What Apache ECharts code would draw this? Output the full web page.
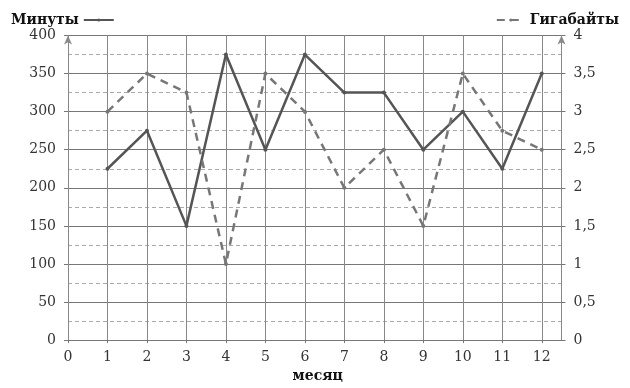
<!DOCTYPE html>
<html>
<head>
<meta charset="utf-8">
<script src="https://cdn.jsdelivr.net/npm/echarts@6/dist/echarts.min.js"></script>
<style>html,body{margin:0;padding:0;background:#fff}#c{width:630px;height:388px}</style>
</head>
<body>
<div id="c"></div>
<script>
var months = [1, 2, 3, 4, 5, 6, 7, 8, 9, 10, 11, 12];
var minutes = [225, 275, 150, 375, 250, 375, 325, 325, 250, 300, 225, 350];
var gigabytes = [3, 3.5, 3.25, 1, 3.5, 3, 2, 2.5, 1.5, 3.5, 2.75, 2.5];
var seriesNames = ['Минуты', 'Гигабайты'];
var xName = 'месяц';

var F = 'DejaVu Serif';
var chart = echarts.init(document.getElementById('c'), null, {renderer: 'canvas'});
chart.setOption({
  animation: false,
  backgroundColor: '#fff',
  grid: {left: 68, right: 68.5, top: 35.5, bottom: 44},
  legend: [
    {data: [seriesNames[0]], left: 6, top: 8, align: 'right', itemWidth: 30, itemHeight: 4, itemGap: 8,
     textStyle: {fontFamily: F, fontWeight: 'bold', fontSize: 14, color: '#111'}},
    {data: [seriesNames[1]], right: 6, top: 8, align: 'left', itemWidth: 28, itemHeight: 4,
     textStyle: {fontFamily: F, fontWeight: 'bold', fontSize: 14, color: '#111'}}
  ],
  xAxis: {
    type: 'value', min: 0, max: 12.5, interval: 1,
    name: xName, nameLocation: 'middle', nameGap: 27,
    nameTextStyle: {fontFamily: F, fontWeight: 'bold', fontSize: 14, color: '#111', padding: [0, 0, 0, 6]},
    axisLine: {show: true, lineStyle: {color: '#777', width: 1}},
    axisTick: {show: true, length: 3, lineStyle: {color: '#777'}},
    axisLabel: {showMaxLabel: false, fontFamily: F, fontSize: 14, color: '#333', margin: 10},
    splitLine: {show: true, lineStyle: {color: '#888', width: 1}}
  },
  yAxis: [
    {
      type: 'value', min: 0, max: 400, interval: 50, position: 'left',
      axisLine: {show: true, symbol: ['none', 'arrow'], symbolSize: [6, 9], lineStyle: {color: '#888', width: 1}},
      axisTick: {show: true, length: 4, lineStyle: {color: '#777'}},
      axisLabel: {fontFamily: F, fontSize: 14, color: '#333', margin: 12},
      splitLine: {show: true, lineStyle: {color: '#777', width: 1}},
      minorTick: {show: false, splitNumber: 2},
      minorSplitLine: {show: true, lineStyle: {color: '#aaa', width: 1, type: [4, 3]}}
    },
    {
      type: 'value', min: 0, max: 4, interval: 0.5, position: 'right',
      axisLine: {show: true, symbol: ['none', 'arrow'], symbolSize: [6, 9], lineStyle: {color: '#888', width: 1}},
      axisTick: {show: true, length: 4, lineStyle: {color: '#777'}},
      axisLabel: {fontFamily: F, fontSize: 14, color: '#333', margin: 12,
        formatter: function (v) { return String(v).replace('.', ','); }},
      splitLine: {show: false}
    }
  ],
  series: [
    {
      name: seriesNames[0], type: 'line', yAxisIndex: 0,
      data: months.map(function (m, i) { return [m, minutes[i]]; }),
      symbol: 'circle', symbolSize: 4,
      lineStyle: {color: '#555', width: 2.5},
      itemStyle: {color: '#555'}
    },
    {
      name: seriesNames[1], type: 'line', yAxisIndex: 1,
      data: months.map(function (m, i) { return [m, gigabytes[i]]; }),
      symbol: 'circle', symbolSize: 4,
      lineStyle: {color: '#777', width: 2.5, type: [8, 6]},
      itemStyle: {color: '#777'}
    }
  ]
});
</script>
</body>
</html>
